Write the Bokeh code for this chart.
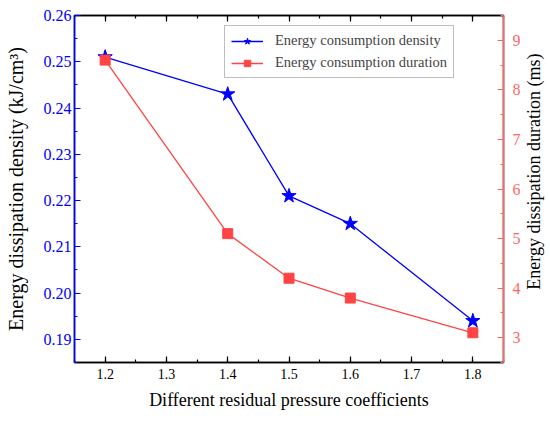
from bokeh.plotting import figure
from bokeh.layouts import row
from bokeh.models import (Range1d, LinearAxis, SingleIntervalTicker, NumeralTickFormatter,
                          Legend, LegendItem, Label)
from bokeh.embed import file_html
from bokeh.resources import INLINE
import math

coefficients = [1.2, 1.4, 1.5, 1.6, 1.8]
density = [0.251, 0.243, 0.221, 0.215, 0.194]
duration = [8.6, 5.1, 4.2, 3.8, 3.1]

BLUE = "#0000ff"
RED = "#ff4444"
RED_AX = "#ff6666"
FONT = "Liberation Serif"

p = figure(width=525, height=421, output_backend="svg", toolbar_location=None,
           x_range=Range1d(1.15, 1.85), y_range=Range1d(0.185, 0.26),
           min_border_left=74, min_border_top=15, min_border_right=22, min_border_bottom=59,
           x_axis_location=None, y_axis_location=None)
p.extra_y_ranges = {"dur": Range1d(2.5, 9.5)}
p.xgrid.visible = False
p.ygrid.visible = False
p.outline_line_color = "black"
p.outline_line_width = 1.5
p.background_fill_color = None
p.border_fill_color = "white"


def style(ax, color, label_color, fs="16px", lfs="18px"):
    ax.axis_line_color = color
    ax.axis_line_width = 1.5
    ax.major_tick_line_color = color
    ax.minor_tick_line_color = color
    ax.major_tick_line_width = 1.2
    ax.minor_tick_line_width = 1.2
    ax.major_tick_in = 6
    ax.major_tick_out = 0
    ax.minor_tick_in = 3
    ax.minor_tick_out = 0
    ax.major_label_text_color = label_color
    ax.major_label_text_font = FONT
    ax.major_label_text_font_size = fs
    ax.axis_label_text_font = FONT
    ax.axis_label_text_font_size = lfs
    ax.axis_label_text_font_style = "normal"
    ax.axis_label_text_color = "black"


left = LinearAxis(ticker=SingleIntervalTicker(interval=0.01, num_minor_ticks=2),
                  formatter=NumeralTickFormatter(format="0.00"),
                  axis_label="Energy dissipation density (kJ/cm³)")
style(left, BLUE, BLUE, "16px", "20px")
left.major_label_standoff = 3
left.axis_label_standoff = 14
p.add_layout(left, "left")

right = LinearAxis(y_range_name="dur", ticker=SingleIntervalTicker(interval=1, num_minor_ticks=2))
style(right, RED_AX, RED_AX, "16px", "18px")
right.major_label_standoff = 9
p.add_layout(right, "right")

bottom = LinearAxis(ticker=SingleIntervalTicker(interval=0.1, num_minor_ticks=2),
                    formatter=NumeralTickFormatter(format="0.0"),
                    axis_label="Different residual pressure coefficients")
style(bottom, "black", "black", "14px", "18px")
bottom.major_label_standoff = 6
bottom.axis_label_standoff = 8
p.add_layout(bottom, "below")

top = LinearAxis(ticker=SingleIntervalTicker(interval=0.1, num_minor_ticks=2))
style(top, "black", "black", "1px")
top.major_label_standoff = 0
top.major_label_text_alpha = 0
p.add_layout(top, "above")

l1 = p.line(coefficients, density, line_color=BLUE, line_width=1.3)
s1 = p.scatter(coefficients, density, marker="star", size=15, fill_color=BLUE, line_color=BLUE)
l2 = p.line(coefficients, duration, line_color=RED, line_width=1.3, y_range_name="dur")
s2 = p.scatter(coefficients, duration, marker="square", size=10, fill_color=RED, line_color=RED,
               y_range_name="dur")

legend = Legend(items=[LegendItem(label="Energy consumption density", renderers=[l1, s1]),
                       LegendItem(label="Energy consumption duration", renderers=[l2, s2])],
                location=(150, 284))
legend.label_text_font = FONT
legend.label_text_font_size = "14.5px"
legend.border_line_color = "#808080"
legend.border_line_width = 1
legend.glyph_width = 32
legend.glyph_height = 16
legend.label_height = 16
legend.spacing = 5
legend.padding = 6
legend.margin = 0
legend.label_standoff = 12
p.add_layout(legend, "center")

# narrow strip carrying the right-axis title, reading bottom-to-top
q = figure(width=25, height=421, output_backend="svg", toolbar_location=None,
           x_range=Range1d(0, 1), y_range=Range1d(0, 1),
           min_border_left=0, min_border_top=0, min_border_right=0, min_border_bottom=0,
           x_axis_location=None, y_axis_location=None)
q.xgrid.visible = False
q.ygrid.visible = False
q.outline_line_color = None
q.background_fill_color = "white"
q.border_fill_color = "white"
q.add_layout(Label(x=0.33, y=0.55, text="Energy dissipation duration (ms)", text_font=FONT,
                   text_font_size="18px", text_align="center", text_baseline="middle",
                   angle=math.pi / 2, text_color="black"))

layout = row(p, q, spacing=0)
open("out.html", "w").write(file_html(layout, INLINE))
